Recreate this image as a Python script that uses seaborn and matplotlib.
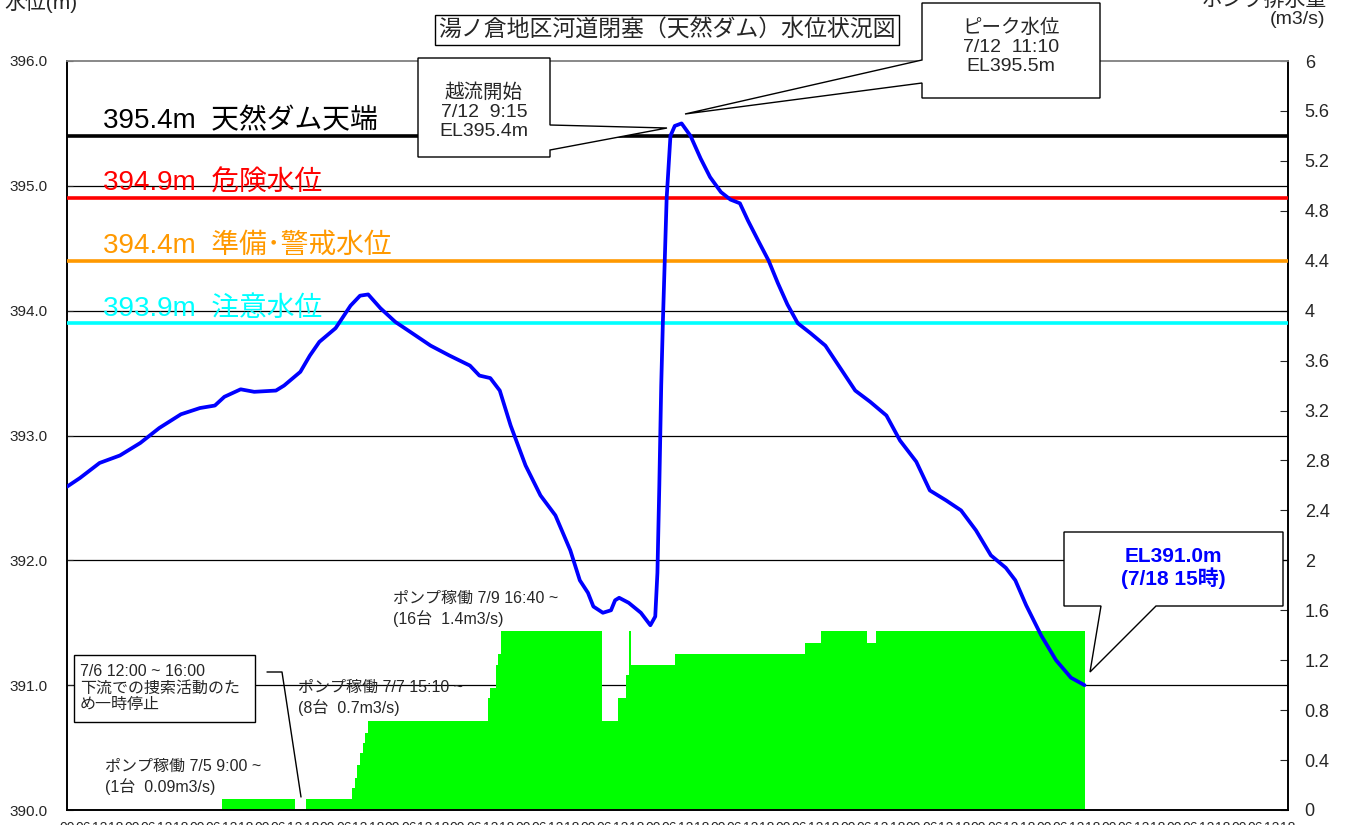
import matplotlib.pyplot as plt
import numpy as np
import pandas as pd
import seaborn as sns
from matplotlib.lines import Line2D
from matplotlib.patches import Polygon
from matplotlib.ticker import FuncFormatter, MultipleLocator

# hours since 7/3 0:00
hours = [0, 4.8, 12, 19.5, 27, 34, 42, 49, 54.5, 58, 64, 69, 77, 80, 86, 89.5, 93, 99,
         104.5, 108, 111, 115.5, 121, 126.5, 134, 141, 148.5, 152, 156, 159.5, 163.5,
         169, 174.5, 180, 185.5, 189, 192, 194, 197.5, 200.5, 202, 203.5, 207, 211.5,
         215, 216.8, 217.6, 218.3, 219, 219.6, 220.3, 221, 222.4, 224, 226.5, 229.8,
         233.5, 237, 241, 244.5, 248, 251, 255, 258.6, 262, 265.5, 269.3, 274, 279.5,
         285, 290.5, 296, 302, 307, 313, 318, 324, 329.5, 335, 340.5, 346, 349.5,
         353.5, 359, 364.5, 370, 375]
levels = [392.59, 392.66, 392.78, 392.84, 392.94, 393.06, 393.17, 393.22, 393.24,
          393.31, 393.37, 393.35, 393.36, 393.40, 393.51, 393.64, 393.75, 393.86,
          394.04, 394.12, 394.13, 394.02, 393.91, 393.83, 393.72, 393.64, 393.56,
          393.48, 393.46, 393.36, 393.08, 392.76, 392.52, 392.36, 392.08, 391.84,
          391.74, 391.63, 391.58, 391.60, 391.68, 391.70, 391.66, 391.58, 391.48,
          391.55, 391.90, 392.60, 393.40, 393.90, 394.40, 394.90, 395.40, 395.48,
          395.50, 395.40, 395.22, 395.07, 394.95, 394.89, 394.86, 394.72, 394.55,
          394.40, 394.22, 394.05, 393.90, 393.82, 393.72, 393.54, 393.36, 393.27,
          393.16, 392.96, 392.79, 392.56, 392.48, 392.40, 392.24, 392.04, 391.94,
          391.84, 391.64, 391.40, 391.20, 391.06, 391.00]

pump_start = [57, 84, 88, 105, 106, 107, 108, 109, 110, 111, 155, 156, 158, 159, 160,
              197, 203, 206, 207, 208, 224, 272, 278, 295, 298]
pump_rate = [0.09, 0, 0.09, 0.18, 0.26, 0.36, 0.46, 0.54, 0.62, 0.71, 0.90, 0.98, 1.16,
             1.25, 1.43, 0.71, 0.90, 1.08, 1.43, 1.16, 1.25, 1.34, 1.43, 1.34, 1.43]
pump_end = 375

threshold_levels = [395.4, 394.9, 394.4, 393.9]
threshold_names = ["天然ダム天端", "危険水位", "準備･警戒水位", "注意水位"]
threshold_colors = ["#000000", "#FF0000", "#FF9900", "#00FFFF"]

level_ticks = [390.0, 391.0, 392.0, 393.0, 394.0, 395.0, 396.0]
flow_ticks = [0, 0.4, 0.8, 1.2, 1.6, 2, 2.4, 2.8, 3.2, 3.6, 4, 4.4, 4.8, 5.2, 5.6, 6]

sns.set_style("white")
plt.rcParams["font.family"] = ["Liberation Sans", "Noto Sans CJK JP", "DejaVu Sans"]

W, H = 1350, 825


def fx(px):
    return px / W


def fy(py):
    return 1 - py / H


fig = plt.figure(figsize=(13.5, 8.25), dpi=100)
ax = fig.add_axes([fx(67), fy(810), (1288 - 67) / W, (810 - 61) / H])
ax2 = ax.twinx()
ax.set_zorder(ax2.get_zorder() + 1)
ax.patch.set_visible(False)

# pump discharge bars (right axis)
widths = np.diff(pump_start + [pump_end])
ax2.bar(pump_start, pump_rate, width=widths, align="edge", color="#00FF00",
        linewidth=0, zorder=2)
for v in level_ticks[1:-1]:
    ax2.axhline(v - level_ticks[0], color="black", lw=0.9, zorder=1)
ax2.set_ylim(flow_ticks[0], flow_ticks[-1])
ax2.set_yticks(flow_ticks)
ax2.set_yticklabels([f"{v:g}" for v in flow_ticks])
ax2.tick_params(axis="y", direction="in", length=6, labelsize=13, pad=12)

# thresholds
for lv, name, c in zip(threshold_levels, threshold_names, threshold_colors):
    ax.axhline(lv, color=c, lw=2.6, zorder=3)
    ax.text(13.3, lv + 0.06, f"{lv:.1f}m  {name}", color=c, fontsize=20,
            va="baseline", zorder=2)

# water level
df = pd.DataFrame({"hour": hours, "level": levels})
sns.lineplot(data=df, x="hour", y="level", ax=ax, color="#0000FF", linewidth=2.7,
             zorder=5, solid_joinstyle="round")

ax.set_xlim(0, 450)
ax.set_ylim(level_ticks[0], level_ticks[-1])
ax.set_xlabel("")
ax.set_ylabel("")
ax.set_yticks(level_ticks)
ax.yaxis.set_major_formatter(FuncFormatter(lambda v, p: f"{v:.1f}"))
ax.tick_params(axis="y", direction="in", length=4, labelsize=11, pad=14)
ax.xaxis.set_major_locator(MultipleLocator(6))
ax.xaxis.set_minor_locator(MultipleLocator(1))
ax.xaxis.set_major_formatter(FuncFormatter(lambda v, p: f"{int(v) % 24:02d}"))
ax.tick_params(axis="x", which="both", direction="in", length=4, width=0.8,
               labelsize=10, pad=8)

for a in (ax, ax2):
    for s in a.spines.values():
        s.set_color("black")
        s.set_linewidth(1.2)
    a.spines["top"].set_color("#888888")

# axis titles (partly cut at the top edge)
fig.text(fx(4), fy(2), "水位(m)", fontsize=15, va="center")
fig.text(fx(1327), fy(0), "ポンプ排水量", fontsize=15, va="center", ha="right")
fig.text(fx(1325), fy(19), "(m3/s)", fontsize=14, va="center", ha="right")

# title
fig.text(fx(667), fy(30), "湯ノ倉地区河道閉塞（天然ダム）水位状況図", fontsize=16.5,
         ha="center", va="center",
         bbox=dict(boxstyle="square,pad=0.15", fc="white", ec="black", lw=1))


def callout(points):
    pts = [(fx(x), fy(y)) for x, y in points]
    fig.add_artist(Polygon(pts, closed=True, transform=fig.transFigure, fc="white",
                           ec="black", lw=1.0, zorder=6))


callout([(418, 58), (550, 58), (550, 125), (667, 128), (550, 150), (550, 157), (418, 157)])
fig.text(fx(484), fy(112), "越流開始\n7/12  9:15\nEL395.4m", fontsize=14, ha="center",
         va="center", linespacing=1.15, zorder=7)

callout([(922, 3), (1100, 3), (1100, 98), (922, 98), (922, 83), (685, 114), (922, 60)])
fig.text(fx(1011), fy(47), "ピーク水位\n7/12  11:10\nEL395.5m", fontsize=14,
         ha="center", va="center", linespacing=1.15, zorder=7)

callout([(1064, 532), (1283, 532), (1283, 606), (1156, 606), (1090, 672), (1101, 606),
         (1064, 606)])
fig.text(fx(1173), fy(568), "EL391.0m\n(7/18 15時)", fontsize=15, fontweight="bold",
         color="#0000FF", ha="center", va="center", linespacing=1.1, zorder=7)

callout([(74, 655), (255, 655), (255, 722), (74, 722)])
fig.text(fx(80), fy(688), "7/6 12:00 ~ 16:00\n下流での捜索活動のた\nめ一時停止", fontsize=11.5,
         ha="left", va="center", linespacing=1.15, zorder=7)
fig.add_artist(Line2D([fx(267), fx(282), fx(301)], [fy(672), fy(672), fy(797)],
                      color="black", lw=1, transform=fig.transFigure, zorder=6))

fig.text(fx(105), fy(777), "ポンプ稼働 7/5 9:00 ~\n(1台  0.09m3/s)", fontsize=11.5,
         va="center", linespacing=1.3, zorder=7)
fig.text(fx(298), fy(698), "ポンプ稼働 7/7 15:10 ~\n(8台  0.7m3/s)", fontsize=11.5,
         va="center", linespacing=1.3, zorder=7)
fig.text(fx(393), fy(609), "ポンプ稼働 7/9 16:40 ~\n(16台  1.4m3/s)", fontsize=11.5,
         va="center", linespacing=1.3, zorder=7)

fig.savefig("out.png", dpi=100)
